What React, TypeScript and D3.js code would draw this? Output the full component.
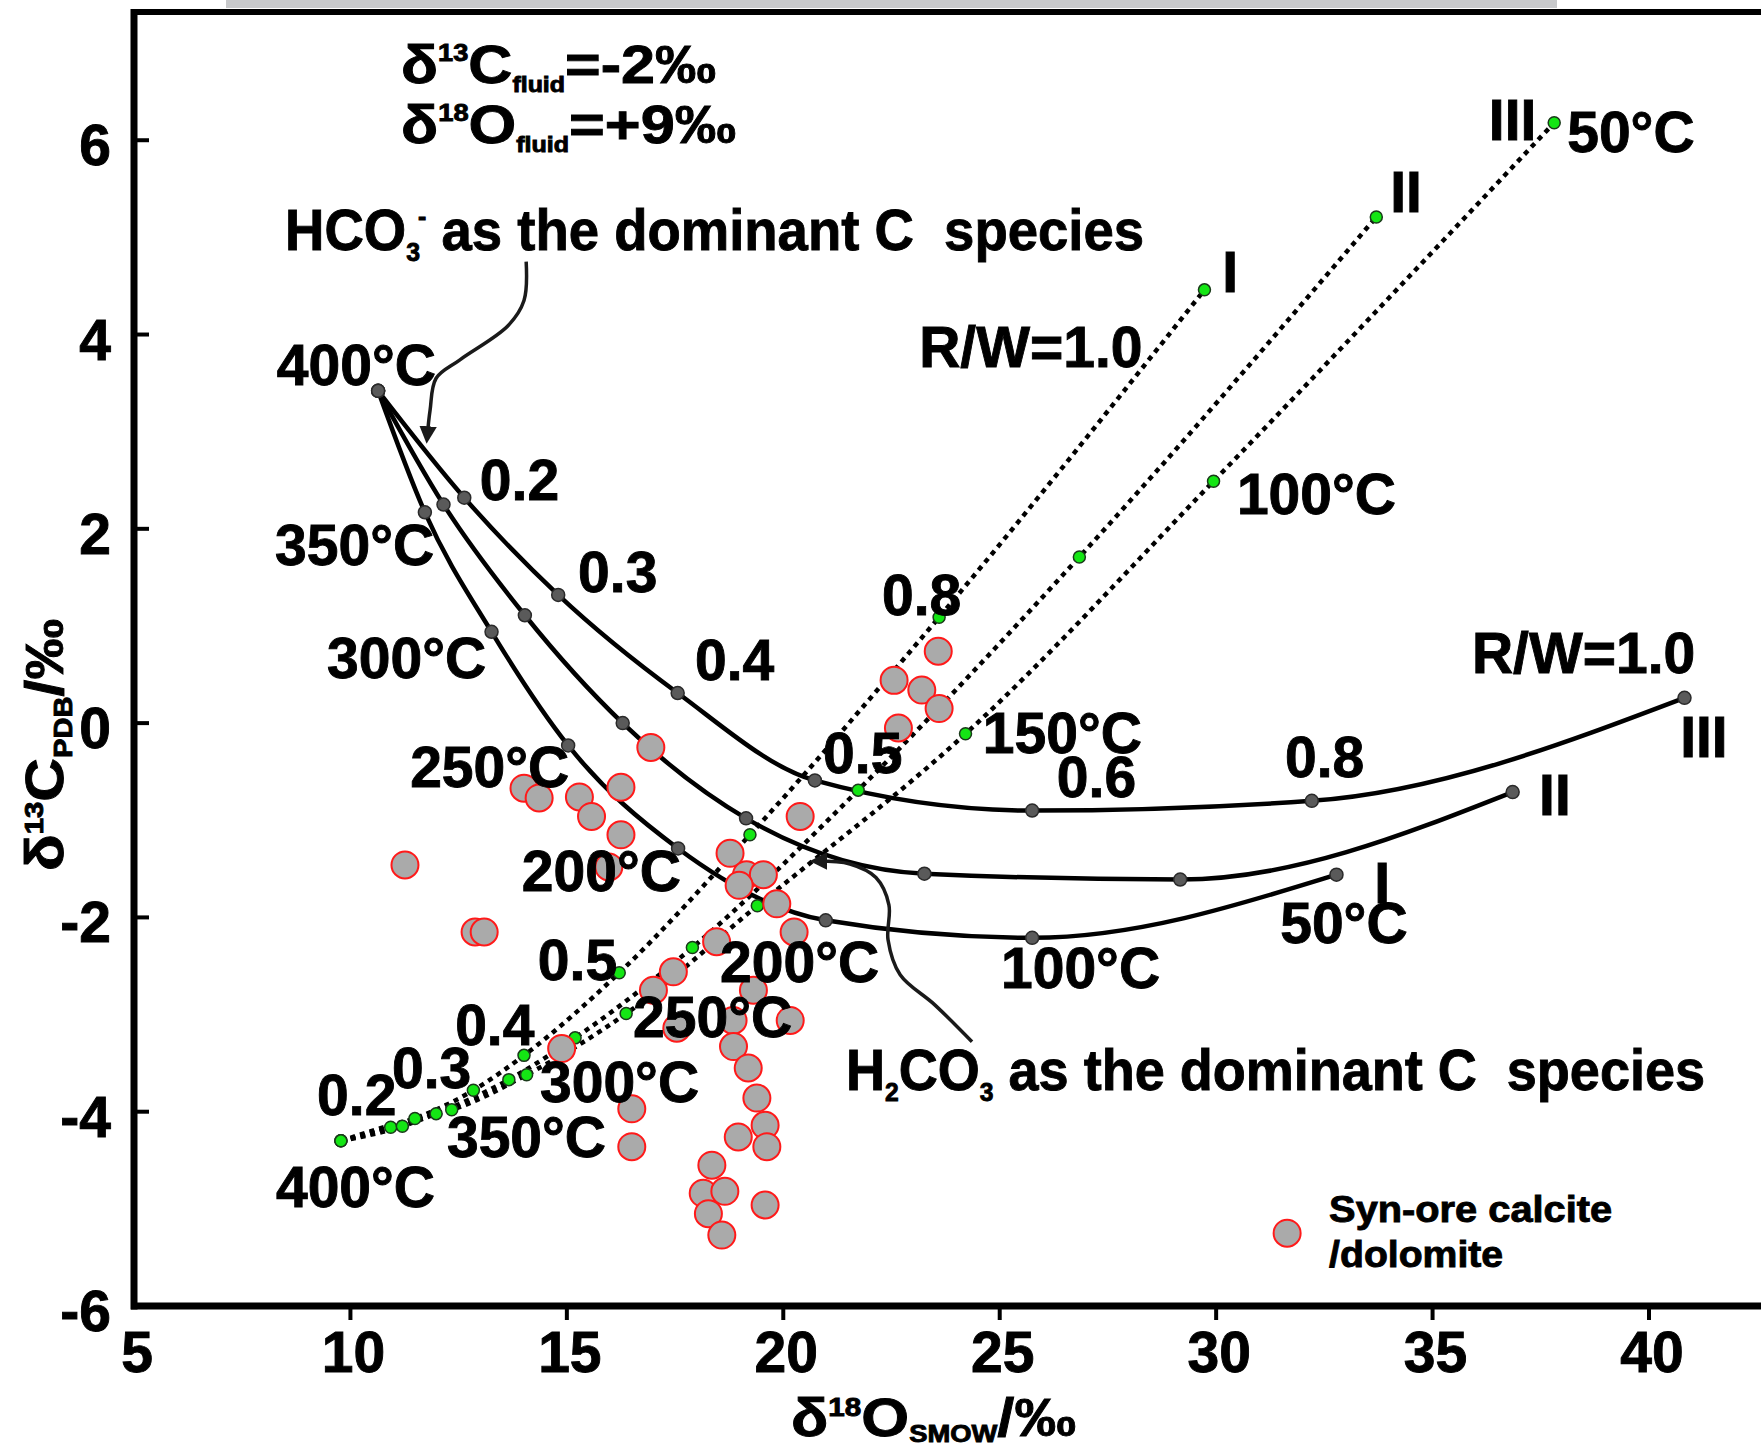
import React from 'react';
import * as d3 from 'd3';

const W = 1761;
const H = 1449;

const xTicks = [5, 10, 15, 20, 25, 30, 35, 40];
const yTicks = [-6, -4, -2, 0, 2, 4, 6];

// solid curves (gray nodes), start at 400°C
const curveIX = [10.64, 11.72, 13.26, 15.03, 17.57, 20.98, 25.75, 32.78];
const curveIY = [3.42, 2.17, 0.94, -0.23, -1.29, -2.03, -2.21, -1.56];
const curveIIX = [10.64, 12.15, 14.03, 16.29, 19.14, 23.26, 29.17, 36.85];
const curveIIY = [3.42, 2.25, 1.11, 0.0, -0.98, -1.55, -1.61, -0.71];
const curveIIIX = [10.64, 12.63, 14.8, 17.56, 20.73, 25.75, 32.21, 40.82];
const curveIIIY = [3.42, 2.32, 1.32, 0.31, -0.59, -0.9, -0.8, 0.26];

// dotted lines (green nodes)
const dotIX = [9.78, 10.93, 12.84, 14.01, 16.21, 19.23, 23.6, 29.73];
const dotIY = [-4.3, -4.16, -3.78, -3.42, -2.57, -1.15, 1.09, 4.46];
const dotIIX = [9.78, 11.2, 11.98, 13.66, 15.19, 17.9, 21.73, 26.84, 33.7];
const dotIIY = [-4.3, -4.15, -4.02, -3.67, -3.24, -2.31, -0.69, 1.71, 5.21];
const dotIIIX = [9.78, 11.49, 12.34, 14.07, 16.37, 19.4, 24.21, 29.94, 37.81];
const dotIIIY = [-4.3, -4.07, -3.98, -3.62, -2.99, -1.88, -0.11, 2.49, 6.18];

// syn-ore calcite / dolomite samples
const calciteO = [
  16.94, 14.01, 14.36, 15.29, 15.57, 16.25, 16.25, 11.26, 15.97, 18.77, 19.15, 19.54, 18.98,
  20.39, 19.85, 20.25, 18.46, 12.88, 13.09, 23.58, 22.56, 23.2, 23.6, 22.66, 17.46, 17.0,
  17.54, 19.31, 20.16, 18.84, 18.85, 19.19, 19.39, 19.58, 18.96, 19.62, 18.35, 18.15, 18.65,
  18.27, 18.58, 19.58, 16.5, 16.5, 14.88,
];
const calciteC = [
  -0.25, -0.67, -0.77, -0.76, -0.96, -0.66, -1.15, -1.46, -1.48, -1.34, -1.56, -1.56, -1.67,
  -0.96, -1.86, -2.15, -2.25, -2.15, -2.15, 0.74, 0.44, 0.34, 0.15, -0.05, -2.56, -2.75,
  -3.14, -2.75, -3.06, -3.06, -3.33, -3.55, -3.86, -4.14, -4.26, -4.36, -4.55, -4.84, -4.82,
  -5.05, -5.27, -4.96, -3.97, -4.36, -3.35,
];

// labels along the curves, anchored in data units (left, baseline)
const curveLabels: [string, number, number][] = [
  ['400°C', 8.3, 3.48], ['0.2', 12.99, 2.3], ['0.3', 15.26, 1.35], ['0.4', 17.96, 0.44],
  ['350°C', 8.26, 1.63], ['300°C', 9.46, 0.46], ['250°C', 11.38, -0.66], ['200°C', 13.96, -1.73],
  ['0.5', 20.92, -0.51], ['0.6', 26.32, -0.76], ['0.8', 31.59, -0.55],
  ['R/W=1.0', 35.91, 0.52], ['III', 40.72, -0.35], ['II', 37.46, -0.95], ['I', 33.65, -1.85],
  ['50°C', 31.48, -2.26], ['100°C', 25.03, -2.73],
];
const dotLabels: [string, number, number][] = [
  ['R/W=1.0', 23.14, 3.67], ['I', 30.14, 4.44], ['II', 34.02, 5.26], ['III', 36.3, 6.0],
  ['50°C', 38.11, 5.88], ['100°C', 30.48, 2.15], ['150°C', 24.61, -0.31], ['0.8', 22.28, 1.11],
  ['0.5', 14.33, -2.64], ['0.4', 12.42, -3.31], ['0.3', 10.96, -3.76], ['0.2', 9.23, -4.03],
  ['350°C', 12.23, -4.47], ['300°C', 14.38, -3.9], ['250°C', 16.53, -3.23], ['200°C', 18.54, -2.66],
  ['400°C', 8.28, -4.98],
];

// annotation arrows
const arrowHX = [14.06, 14.01, 13.64, 12.53, 11.98, 11.84, 11.77];
const arrowHY = [4.75, 4.35, 4.09, 3.74, 3.55, 3.22, 2.93];
const arrowLX = [24.36, 23.5, 22.7, 22.42, 22.44, 22.14, 21.54, 20.73];
const arrowLY = [-3.28, -2.9, -2.59, -2.23, -1.87, -1.59, -1.45, -1.42];

const zip = (a: number[], b: number[]): [number, number][] => a.map((v, i) => [v, b[i]]);

export default function App() {
  const x = d3.scaleLinear().domain([5, 40]).range([134, 1649]);
  const y = d3.scaleLinear().domain([-6, 7.32]).range([1306, 12]);

  const line = d3.line<[number, number]>()
    .x(d => x(d[0]))
    .y(d => y(d[1]))
    .curve(d3.curveMonotoneX);
  const arrowLine = d3.line<[number, number]>()
    .x(d => x(d[0]))
    .y(d => y(d[1]))
    .curve(d3.curveCatmullRom.alpha(0.5));

  const solid = [zip(curveIX, curveIY), zip(curveIIX, curveIIY), zip(curveIIIX, curveIIIY)];
  const dotted = [zip(dotIX, dotIY), zip(dotIIX, dotIIY), zip(dotIIIX, dotIIIY)];
  const calcite = zip(calciteO, calciteC);

  const font = "'Liberation Sans', Arial, Helvetica, sans-serif";
  const x0 = x(5);
  const yb = y(-6);
  const heavy = { stroke: '#000', strokeWidth: 0.9 };

  return (
    <svg width={W} height={H} style={{ position: 'absolute', left: 0, top: 0, display: 'block', background: '#fff' }}
      fontFamily={font} fontWeight="bold">
      <defs>
        <marker id="ah" viewBox="0 0 10 10" refX="7" refY="5" markerWidth="5" markerHeight="5" orient="auto">
          <path d="M0,0 L10,5 L0,10 z" fill="#1a1a1a" />
        </marker>
      </defs>
      <rect x={0} y={0} width={W} height={H} fill="#fff" />
      <rect x={226} y={0} width={1331} height={8} fill="#c8c9cb" />

      {/* frame */}
      <line x1={x0 - 3} x2={W} y1={12} y2={12} stroke="#000" strokeWidth={6} />
      <line x1={x0} x2={x0} y1={9} y2={yb + 3.5} stroke="#000" strokeWidth={7} />
      <line x1={x0 - 3} x2={W} y1={yb} y2={yb} stroke="#000" strokeWidth={7} />

      {yTicks.map(t => (
        <g key={'y' + t}>
          {t > -6 && <line x1={x0} x2={x0 + 15} y1={y(t)} y2={y(t)} stroke="#000" strokeWidth={4} />}
          <text x={111} y={y(t) + 25} textAnchor="end" fontSize={57} {...heavy}>{t}</text>
        </g>
      ))}
      {xTicks.map(t => (
        <g key={'x' + t}>
          {t > 5 && <line x1={x(t)} x2={x(t)} y1={yb} y2={yb + 14} stroke="#000" strokeWidth={4} />}
          <text x={x(t) + 3} y={1372} textAnchor="middle" fontSize={57} {...heavy}>{t}</text>
        </g>
      ))}

      {/* axis titles */}
      <text x={791} y={1436} fontSize={54} textLength={285} lengthAdjust="spacingAndGlyphs" {...heavy}>
        δ<tspan dy={-20} fontSize={26}>18</tspan><tspan dy={20}>O</tspan>
        <tspan dy={6} fontSize={24}>SMOW</tspan><tspan dy={-6}>/‰</tspan>
      </text>
      <text transform={`translate(63, 745) rotate(-90)`} textAnchor="middle" fontSize={54}
        textLength={252} lengthAdjust="spacingAndGlyphs" {...heavy}>
        δ<tspan dy={-20} fontSize={26}>13</tspan><tspan dy={20}>C</tspan>
        <tspan dy={9} fontSize={26}>PDB</tspan><tspan dy={-9}>/‰</tspan>
      </text>

      {/* model curves */}
      {solid.map((d, i) => (
        <path key={'s' + i} d={line(d) || ''} fill="none" stroke="#000" strokeWidth={4.5} />
      ))}
      {dotted.map((d, i) => (
        <path key={'d' + i} d={line(d) || ''} fill="none" stroke="#000" strokeWidth={4.5} strokeDasharray="5 5" />
      ))}
      {solid.map((d, i) => d.map((p, j) => (
        <circle key={`sn${i}-${j}`} cx={x(p[0])} cy={y(p[1])} r={6.5} fill="#5a5a5a" stroke="#2a2a2a" strokeWidth={1.5} />
      )))}
      {dotted.map((d, i) => d.map((p, j) => (
        <circle key={`dn${i}-${j}`} cx={x(p[0])} cy={y(p[1])} r={6} fill="#14e614" stroke="#1a3a1a" strokeWidth={1.5} />
      )))}

      {/* samples */}
      {calcite.map((p, i) => (
        <circle key={'c' + i} cx={x(p[0])} cy={y(p[1])} r={13.5} fill="#aaaaaa" stroke="#ff1a1a" strokeWidth={2} />
      ))}

      {/* arrows */}
      <path d={arrowLine(zip(arrowHX, arrowHY)) || ''} fill="none" stroke="#1a1a1a" strokeWidth={3.5} markerEnd="url(#ah)" />
      <path d={arrowLine(zip(arrowLX, arrowLY)) || ''} fill="none" stroke="#1a1a1a" strokeWidth={3.5} markerEnd="url(#ah)" />

      {/* labels */}
      {curveLabels.concat(dotLabels).map(([t, lx, ly], i) => (
        <text key={'l' + i} x={x(lx)} y={y(ly)} fontSize={57} {...heavy}>{t}</text>
      ))}

      <text x={x(11.17)} y={y(6.59)} fontSize={54} textLength={315} lengthAdjust="spacingAndGlyphs" {...heavy}>
        δ<tspan dy={-22} fontSize={24}>13</tspan><tspan dy={22}>C</tspan>
        <tspan dy={9} fontSize={22}>fluid</tspan><tspan dy={-9}>=-2‰</tspan>
      </text>
      <text x={x(11.17)} y={y(5.97)} fontSize={54} textLength={335} lengthAdjust="spacingAndGlyphs" {...heavy}>
        δ<tspan dy={-22} fontSize={24}>18</tspan><tspan dy={22}>O</tspan>
        <tspan dy={9} fontSize={22}>fluid</tspan><tspan dy={-9}>=+9‰</tspan>
      </text>

      <text x={x(8.49)} y={y(4.87)} fontSize={57} textLength={859} lengthAdjust="spacingAndGlyphs"
        style={{ whiteSpace: 'pre' }} {...heavy}>
        HCO<tspan dy={11} fontSize={26}>3</tspan><tspan dx={-2} dy={-36} fontSize={26}>-</tspan>
        <tspan dy={25}>{' as the dominant C  species'}</tspan>
      </text>
      <text x={x(21.45)} y={y(-3.78)} fontSize={57} textLength={859} lengthAdjust="spacingAndGlyphs"
        style={{ whiteSpace: 'pre' }} {...heavy}>
        H<tspan dy={11} fontSize={26}>2</tspan><tspan dy={-11}>CO</tspan><tspan dy={11} fontSize={26}>3</tspan>
        <tspan dy={-11}>{' as the dominant C  species'}</tspan>
      </text>

      {/* legend */}
      <circle cx={x(31.64)} cy={y(-5.25)} r={13.5} fill="#aaaaaa" stroke="#ff1a1a" strokeWidth={2} />
      <text x={x(32.61)} y={y(-5.135)} fontSize={36} textLength={283} lengthAdjust="spacingAndGlyphs" {...heavy}>Syn-ore calcite</text>
      <text x={x(32.61)} y={y(-5.6)} fontSize={36} textLength={174} lengthAdjust="spacingAndGlyphs" {...heavy}>/dolomite</text>
    </svg>
  );
}
